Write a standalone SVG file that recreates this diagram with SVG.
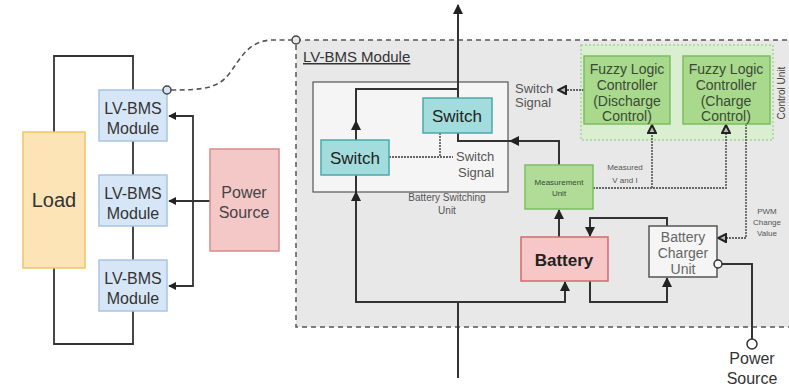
<svg xmlns="http://www.w3.org/2000/svg" width="789" height="389" viewBox="0 0 789 389">
<style>
text{font-family:"Liberation Sans",Arial,sans-serif;text-anchor:middle}
.w{fill:none;stroke:#333;stroke-width:2}
.d{fill:none;stroke:#666;stroke-width:1.8;stroke-dasharray:2 1}
.mod rect{fill:#d7e6f6;stroke:#a9c4e2;stroke-width:1.5}
.mod text{font-size:16px;fill:#333}
.sw rect{fill:#a3dcdc;stroke:#4aa9ad;stroke-width:1.5}
.sw text{font-size:17px;fill:#222}
.flc rect{fill:#a8d98c;stroke:#7dbd62;stroke-width:1.5}
.flc text{font-size:14px;fill:#3a4a35}
.small{font-size:8px;fill:#555}
.lbl{font-size:13px;fill:#555}
</style>
<defs>
<marker id="a" viewBox="0 0 10 10" refX="9" refY="5" markerWidth="8" markerHeight="8" orient="auto" markerUnits="userSpaceOnUse">
<path d="M0,0 L10,5 L0,10 z" fill="#222"/>
</marker>
<marker id="ab" viewBox="0 0 10 10" refX="9" refY="5" markerWidth="10" markerHeight="10" orient="auto" markerUnits="userSpaceOnUse">
<path d="M0,0 L10,5 L0,10 z" fill="#222"/>
</marker>
<marker id="o" viewBox="0 0 10 10" refX="9" refY="5" markerWidth="10" markerHeight="10" orient="auto" markerUnits="userSpaceOnUse">
<path d="M1,1 L9,5 L1,9 z" fill="#bbb" stroke="#222" stroke-width="2"/>
</marker>
</defs>
<rect width="789" height="389" fill="#fff"/>

<g id="lvbms-container">
<rect x="296" y="40" width="510" height="287" fill="#e8e8e8" stroke="#555" stroke-width="1.5" stroke-dasharray="5 4"/>
<circle cx="296" cy="40" r="4" fill="#e8e8e8" stroke="#444" stroke-width="1.5"/>
<text x="303" y="62" style="font-size:15px;fill:#333;text-anchor:start;text-decoration:underline">LV-BMS Module</text>
</g>

<g id="control-unit">
<rect x="581" y="45" width="192" height="95" fill="#d9efd0" stroke="#a6d39a" stroke-width="1.5" stroke-dasharray="2 2"/>
<text transform="translate(785,93) rotate(-90)" style="font-size:10px;fill:#444">Control Unit</text>
</g>

<g id="bsu">
<rect x="313" y="82" width="195" height="110" fill="#f5f5f5" stroke="#555" stroke-width="1.2"/>
<text x="447" y="201" style="font-size:10px;fill:#555">Battery Switching</text>
<text x="447" y="214" style="font-size:10px;fill:#555">Unit</text>
</g>

<g id="connectors">
<path class="w" style="stroke-width:1.8" d="M54,132 V56 H133 V90 M133,141 V175 M133,226 V260 M133,311 V344 H54 V268"/>
<path class="w" style="stroke-width:1.8" d="M210,201 H169" marker-end="url(#a)"/>
<path class="w" style="stroke-width:1.8" d="M193,201 V116 H169" marker-end="url(#a)"/>
<path class="w" style="stroke-width:1.8" d="M193,201 V286 H169" marker-end="url(#a)"/>
<path d="M171,90 C205,90 218,88 229,74 C241,58 248,41 272,40 L292,40" fill="none" stroke="#555" stroke-width="1.6" stroke-dasharray="5 3.5"/>
<path class="w" d="M458,378 V302"/>
<path class="w" d="M458,302 H356 V175"/>
<path class="w" d="M356,302 V192" marker-end="url(#ab)"/>
<path class="w" d="M458,302 H565 V282" marker-end="url(#ab)"/>
<path class="w" d="M356,140 V89 H458"/>
<path class="w" d="M356,140 V121" marker-end="url(#ab)"/>
<path class="w" d="M458,98 V5" marker-end="url(#ab)"/>
<path class="w" d="M559,165 V141 H458 V133"/>
<path class="w" d="M559,141 H510" marker-end="url(#ab)"/>
<path class="w" d="M559,237 V210" marker-end="url(#ab)"/>
<path class="w" d="M667,226 V218 H590 V236" marker-end="url(#ab)"/>
<path class="w" d="M590,281 V302 H667 V278" marker-end="url(#ab)"/>
<path class="w" d="M722,264 H752 V340"/>
<path class="d" d="M389,157 H453 M440,133 V157"/>
<path class="d" d="M584,90 H558" marker-end="url(#o)"/>
<path class="d" d="M593,188 H726 V125" marker-end="url(#o)"/>
<path class="d" d="M652,188 V125" marker-end="url(#o)"/>
<path class="d" d="M746,124 V238 H718" marker-end="url(#o)"/>
</g>

<g id="load">
<rect x="23" y="132" width="62" height="136" fill="#fde4b6" stroke="#efc567" stroke-width="1.5"/>
<text x="54" y="207" style="font-size:20px;fill:#333">Load</text>
</g>
<g id="module1" class="mod">
<rect x="99" y="90" width="68" height="51"/>
<text x="133" y="114">LV-BMS</text><text x="133" y="134">Module</text>
</g>
<circle cx="167" cy="90" r="4" fill="#d7e6f6" stroke="#444" stroke-width="1.5"/>
<g id="module2" class="mod">
<rect x="99" y="175" width="68" height="51"/>
<text x="133" y="199">LV-BMS</text><text x="133" y="219">Module</text>
</g>
<g id="module3" class="mod">
<rect x="99" y="260" width="68" height="51"/>
<text x="133" y="284">LV-BMS</text><text x="133" y="304">Module</text>
</g>
<g id="power-source-left">
<rect x="210" y="149" width="69" height="102" fill="#f5c8c8" stroke="#d98a8a" stroke-width="1.5"/>
<text x="244" y="198" style="font-size:16px;fill:#444">Power</text>
<text x="244" y="218" style="font-size:16px;fill:#444">Source</text>
</g>

<g id="switch-upper" class="sw">
<rect x="423" y="98" width="69" height="35"/>
<text x="457" y="122">Switch</text>
</g>
<g id="switch-lower" class="sw">
<rect x="321" y="140" width="68" height="35"/>
<text x="355" y="164">Switch</text>
</g>
<g id="switch-signal-inner">
<text class="lbl" x="456" y="161" style="text-anchor:start">Switch</text>
<text class="lbl" x="458" y="177" style="text-anchor:start">Signal</text>
</g>
<g id="switch-signal-outer">
<text class="lbl" x="515" y="93" style="text-anchor:start">Switch</text>
<text class="lbl" x="515" y="107" style="text-anchor:start">Signal</text>
</g>

<g id="measurement-unit">
<rect x="525" y="165" width="68" height="44" fill="#b0dc98" stroke="#7dbd62" stroke-width="1.5"/>
<text x="559" y="185" style="font-size:8px;fill:#3a4a35">Measurement</text>
<text x="559" y="196" style="font-size:8px;fill:#3a4a35">Unit</text>
</g>
<g id="measured-label">
<text class="small" x="625" y="170">Measured</text>
<text class="small" x="625" y="183">V and I</text>
</g>

<g id="flc-discharge" class="flc">
<rect x="584" y="56" width="86" height="68"/>
<text x="627" y="74">Fuzzy Logic</text>
<text x="627" y="90">Controller</text>
<text x="627" y="106">(Discharge</text>
<text x="627" y="121">Control)</text>
</g>
<g id="flc-charge" class="flc">
<rect x="683" y="56" width="87" height="68"/>
<text x="726" y="74">Fuzzy Logic</text>
<text x="726" y="90">Controller</text>
<text x="726" y="106">(Charge</text>
<text x="726" y="121">Control)</text>
</g>

<g id="battery">
<rect x="521" y="237" width="87" height="44" fill="#f7c6c6" stroke="#d9676a" stroke-width="1.5"/>
<text x="564" y="266" style="font-size:17px;font-weight:bold;fill:#222">Battery</text>
</g>
<g id="charger">
<rect x="649" y="226" width="68" height="51" fill="#f5f5f5" stroke="#555" stroke-width="1.5"/>
<text x="683" y="242" style="font-size:14px;fill:#666">Battery</text>
<text x="683" y="258" style="font-size:14px;fill:#666">Charger</text>
<text x="683" y="274" style="font-size:14px;fill:#666">Unit</text>
</g>
<circle cx="718" cy="264" r="4" fill="#f5f5f5" stroke="#333" stroke-width="1.5"/>
<g id="pwm-label">
<text class="small" x="767" y="214">PWM</text>
<text class="small" x="767" y="225">Change</text>
<text class="small" x="767" y="236">Value</text>
</g>
<g id="power-source-right">
<circle cx="752" cy="344" r="5" fill="#fff" stroke="#333" stroke-width="1.5"/>
<text x="752" y="364" style="font-size:16px;fill:#333">Power</text>
<text x="752" y="384" style="font-size:16px;fill:#333">Source</text>
</g>
</svg>
